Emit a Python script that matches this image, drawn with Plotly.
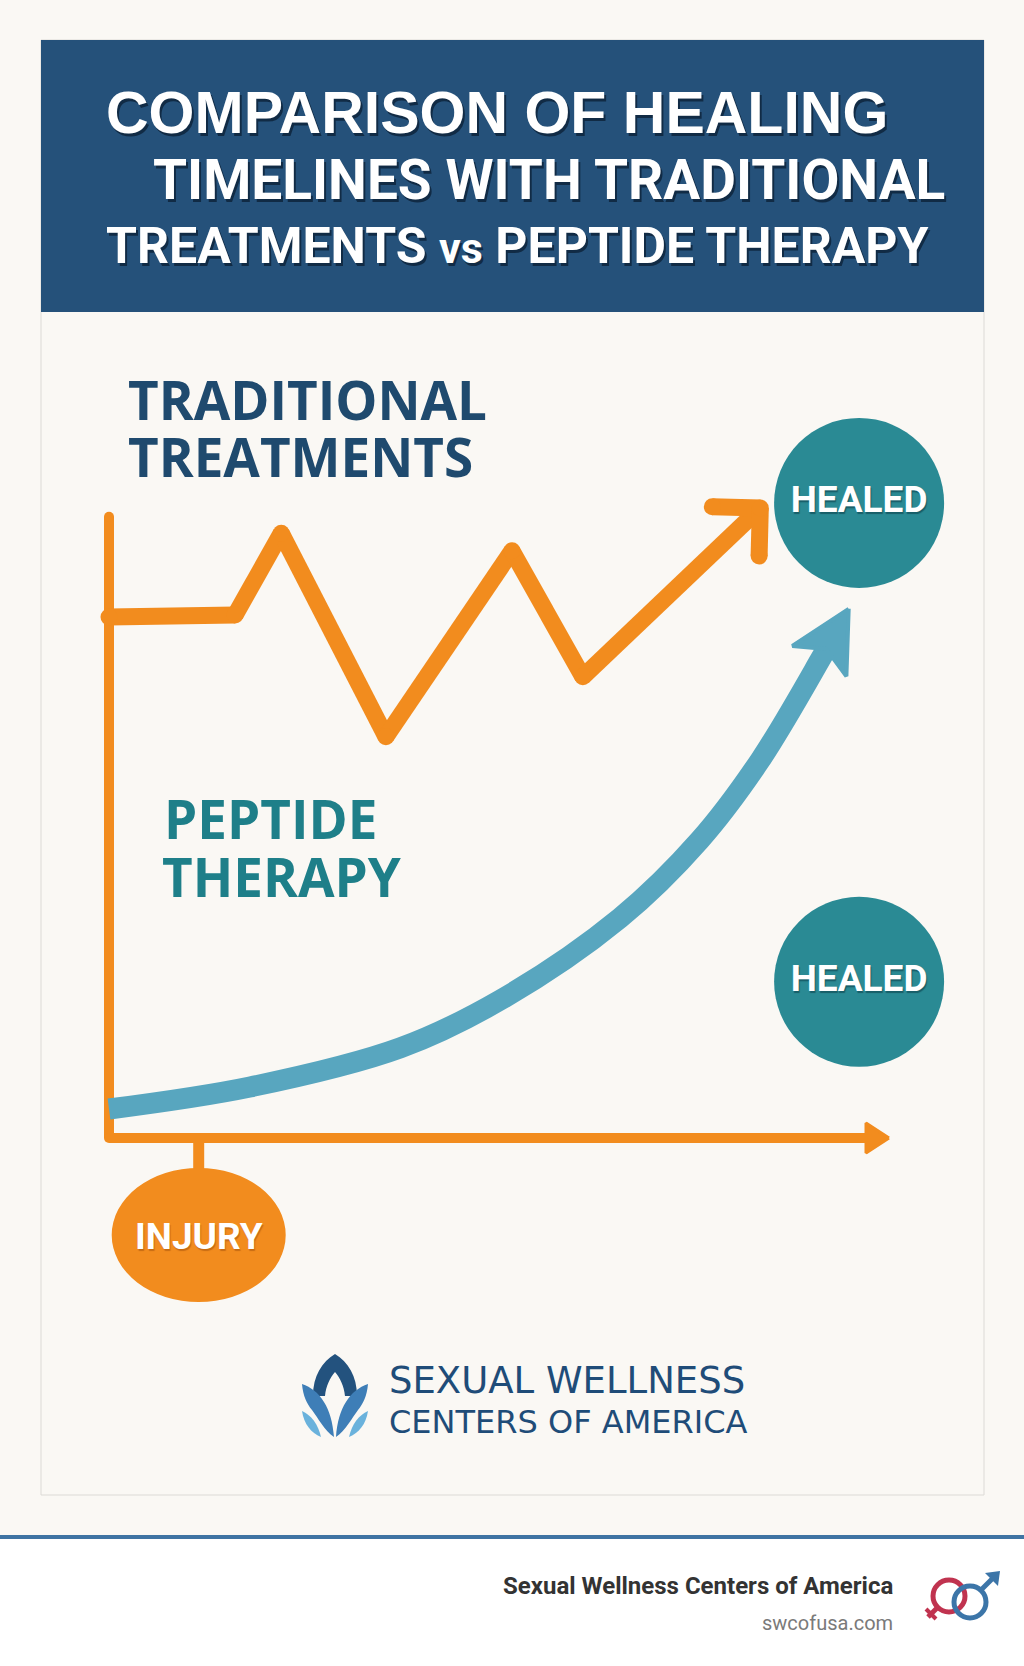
import math
import plotly.graph_objects as go

# ---------------- data ----------------
traditional_weeks = [0.0, 1.94, 2.65, 4.26, 6.20, 7.29, 10.02]
traditional_progress = [82.7, 83.0, 96.0, 63.7, 93.2, 73.2, 100.0]

peptide_weeks = [0.0, 2.17, 4.48, 6.02, 7.86, 9.09, 10.02, 10.94, 11.38]
peptide_progress = [4.6, 8.1, 14.3, 21.9, 34.9, 47.3, 60.0, 75.9, 84.0]

axis_end_week = 12.0
axis_top_progress = 98.6
injury_week = 1.38
healed_weeks = [11.54, 11.54]
healed_progress = [100.8, 24.8]
healed_labels = ["HEALED", "HEALED"]

# ---------------- style / geometry ----------------
W, H = 1024, 1666
X0, XS = 109.0, 65.0      # pixel of week 0, pixels per week
Y0, YS = 1138.0, 6.3      # pixel of progress 0 (from top), pixels per unit

ORANGE = "#F28C1E"
BLUE = "#58A6BF"
TEAL = "#2A8A94"
NAVY = "#1F4A6E"
TEAL_TXT = "#1E7F89"
HEADER = "#25517A"
BG = "#FAF8F4"


def to_px(x, y):
    return X0 + x * XS, Y0 - y * YS


def to_data(px, py):
    return (px - X0) / XS, (Y0 - py) / YS


def pp(px, py):
    return px / W, 1 - py / H


fig = go.Figure()

# ---- axes (orange) ----
fig.add_trace(go.Scatter(x=[0, 0], y=[0, axis_top_progress], mode="lines+markers",
                         line=dict(color=ORANGE, width=10),
                         marker=dict(size=10, color=ORANGE), hoverinfo="skip"))
tip_px = to_px(axis_end_week, 0)
back_px = (tip_px[0] - 23, tip_px[1])
bx, _ = to_data(*back_px)
fig.add_trace(go.Scatter(x=[0, bx + 2 / XS], y=[0, 0], mode="lines",
                         line=dict(color=ORANGE, width=10), hoverinfo="skip"))
hx = [axis_end_week, bx, bx, axis_end_week]
hy = [0, 15 / YS, -15 / YS, 0]
fig.add_trace(go.Scatter(x=hx, y=hy, mode="lines", fill="toself", fillcolor=ORANGE,
                         line=dict(color=ORANGE, width=3), hoverinfo="skip"))

# ---- peptide therapy curve ----
tpx = to_px(peptide_weeks[-1], peptide_progress[-1])
ppx = to_px(peptide_weeks[-2], peptide_progress[-2])
ux, uy = tpx[0] - ppx[0], tpx[1] - ppx[1]
ul = math.hypot(ux, uy)
ux, uy = ux / ul, uy / ul
nx, ny = -uy, ux
notch = to_data(tpx[0] - 46 * ux, tpx[1] - 46 * uy)
cx = peptide_weeks[:-1] + [notch[0]]
cy = peptide_progress[:-1] + [notch[1]]
fig.add_trace(go.Scatter(x=cx, y=cy, mode="lines", line=dict(color=BLUE, width=21, shape="spline", smoothing=1.0),
                         hoverinfo="skip"))
base = (tpx[0] - 60 * ux, tpx[1] - 60 * uy)
lw = to_data(base[0] + 31 * nx, base[1] + 31 * ny)
rw = to_data(base[0] - 31 * nx, base[1] - 31 * ny)
fig.add_trace(go.Scatter(x=[peptide_weeks[-1], lw[0], notch[0], rw[0], peptide_weeks[-1]],
                         y=[peptide_progress[-1], lw[1], notch[1], rw[1], peptide_progress[-1]],
                         mode="lines", fill="toself", fillcolor=BLUE,
                         line=dict(color=BLUE, width=4), hoverinfo="skip"))

# ---- traditional treatments zigzag ----
sx, sy = [], []
for i in range(len(traditional_weeks) - 1):
    sx += [traditional_weeks[i], traditional_weeks[i + 1], None]
    sy += [traditional_progress[i], traditional_progress[i + 1], None]
t_tip = to_px(traditional_weeks[-1], traditional_progress[-1])
t_prev = to_px(traditional_weeks[-2], traditional_progress[-2])
bxv, byv = t_prev[0] - t_tip[0], t_prev[1] - t_tip[1]
bl = math.hypot(bxv, byv)
bxv, byv = bxv / bl, byv / bl
arm_pts = []
for ang in (math.radians(45), math.radians(-45)):
    rx = bxv * math.cos(ang) - byv * math.sin(ang)
    ry = bxv * math.sin(ang) + byv * math.cos(ang)
    end = to_data(t_tip[0] + 48 * rx, t_tip[1] + 48 * ry)
    sx += [traditional_weeks[-1], end[0], None]
    sy += [traditional_progress[-1], end[1], None]
    arm_pts.append(end)
fig.add_trace(go.Scatter(x=sx, y=sy, mode="lines", connectgaps=False,
                         line=dict(color=ORANGE, width=17), hoverinfo="skip"))
jx = traditional_weeks + [p[0] for p in arm_pts]
jy = traditional_progress + [p[1] for p in arm_pts]
fig.add_trace(go.Scatter(x=jx, y=jy, mode="markers",
                         marker=dict(size=17, color=ORANGE, line=dict(width=0)), hoverinfo="skip"))

# ---- HEALED circles ----
fig.add_trace(go.Scatter(x=healed_weeks, y=healed_progress, mode="markers+text",
                         text=healed_labels, textposition="middle center",
                         marker=dict(size=170, color=TEAL, line=dict(width=0)),
                         textfont=dict(family="Roboto", size=37, color="white", weight="bold",
                                       shadow="1px 2px 1px rgba(0,40,50,0.45)"),
                         hoverinfo="skip"))

shapes = []
annotations = []


def rect_px(x0, y0, x1, y1, **kw):
    a = pp(x0, y0)
    b = pp(x1, y1)
    d = dict(type="rect", xref="paper", yref="paper", x0=a[0], y0=b[1], x1=b[0], y1=a[1])
    d.update(kw)
    shapes.append(d)


# panel + header + footer backgrounds
rect_px(41, 40, 984, 1495, line=dict(color="#DCDAD6", width=1), fillcolor="rgba(0,0,0,0)", layer="below")
rect_px(41, 40, 984, 312, line=dict(width=0), fillcolor=HEADER, layer="below")
rect_px(0, 1537, 1024, 1666, line=dict(width=0), fillcolor="#FFFFFF", layer="below")
rect_px(0, 1535, 1024, 1539, line=dict(width=0), fillcolor="#3F74A3", layer="below")

# injury stem + ellipse
stem_bottom = to_data(0, 1170)[1]
shapes.append(dict(type="line", xref="x", yref="y", x0=injury_week, x1=injury_week, y0=0, y1=stem_bottom,
                   line=dict(color=ORANGE, width=11), layer="below"))
shapes.append(dict(type="circle", xref="x", yref="y",
                   x0=injury_week - 87 / XS, x1=injury_week + 87 / XS,
                   y0=to_data(0, 1302)[1], y1=to_data(0, 1168)[1],
                   fillcolor=ORANGE, line=dict(width=0)))
annotations.append(dict(x=injury_week, y=to_data(0, 1236)[1], xref="x", yref="y", text="INJURY",
                        showarrow=False, xanchor="center", yanchor="middle",
                        font=dict(family="Roboto", size=37, color="white", weight="bold",
                                  shadow="1px 2px 1px rgba(120,50,0,0.35)")))


def ann_px(text, x, y, size, color, family, xanchor="left", weight="normal", shadow="none", height=None):
    p = pp(x, y)
    d = dict(x=p[0], y=p[1], xref="paper", yref="paper", text=text, showarrow=False,
             xanchor=xanchor, yanchor="middle",
             font=dict(family=family, size=size, color=color, weight=weight, shadow=shadow))
    if height:
        d["height"] = height
    annotations.append(d)


# title
tshadow = "2px 3px 0px #112b45"
ann_px("COMPARISON OF HEALING", 104, 113, 59, "white", "Liberation Sans", weight="bold", shadow=tshadow)
ann_px("TIMELINES WITH TRADITIONAL", 151, 180, 55, "white", "Roboto", weight="bold", shadow=tshadow)
ann_px("TREATMENTS <span style=\"font-size:43px\">vs</span> PEPTIDE THERAPY",
       104, 246, 50, "white", "Roboto", weight="bold", shadow=tshadow)

# series labels
ann_px("TRADITIONAL", 126, 399, 53, NAVY, "Open Sans", weight="bold", height=54)
ann_px("TREATMENTS", 126, 456, 53, NAVY, "Open Sans", weight="bold", height=54)
ann_px("PEPTIDE", 162, 818, 53, TEAL_TXT, "Open Sans", weight="bold", height=54)
ann_px("THERAPY", 160, 876, 53, TEAL_TXT, "Open Sans", weight="bold", height=54)

# center logo text
ann_px("SEXUAL WELLNESS", 387, 1380, 37, "#1F4C78", "DejaVu Sans")
ann_px("CENTERS OF AMERICA", 387, 1422, 32, "#1F4C78", "DejaVu Sans")

# footer text
ann_px("Sexual Wellness Centers of America", 895, 1586, 24, "#333333", "Roboto", xanchor="right", weight="bold")
ann_px("swcofusa.com", 895, 1623, 20, "#7A7A7A", "Roboto", xanchor="right")


def path_px(cmds):
    out = []
    for c in cmds:
        if isinstance(c, str):
            out.append(c)
        else:
            a = pp(*c)
            out.append(f"{a[0]:.5f},{a[1]:.5f}")
    return " ".join(out)


# lotus logo
shapes.append(dict(type="path", xref="paper", yref="paper", line=dict(width=0), fillcolor="#23527E",
                   path=path_px(["M", (313, 1396), "C", (313, 1376), (322, 1362), (335, 1354),
                                 "C", (348, 1362), (357, 1376), (357, 1396),
                                 "L", (345, 1396), "C", (344, 1386), (340, 1378), (335, 1372),
                                 "C", (330, 1378), (326, 1386), (325, 1396), "Z"])))
shapes.append(dict(type="path", xref="paper", yref="paper", line=dict(width=0), fillcolor="#3E7EB7",
                   path=path_px(["M", (302, 1384), "C", (320, 1390), (332, 1408), (334, 1437),
                                 "C", (324, 1430), (318, 1418), (312, 1410),
                                 "C", (307, 1404), (303, 1396), (302, 1384), "Z"])))
shapes.append(dict(type="path", xref="paper", yref="paper", line=dict(width=0), fillcolor="#3E7EB7",
                   path=path_px(["M", (368, 1384), "C", (350, 1390), (338, 1408), (336, 1437),
                                 "C", (346, 1430), (352, 1418), (358, 1410),
                                 "C", (363, 1404), (367, 1396), (368, 1384), "Z"])))
shapes.append(dict(type="path", xref="paper", yref="paper", line=dict(width=0), fillcolor="#6AB2DC",
                   path=path_px(["M", (302, 1411), "C", (311, 1415), (318, 1424), (321, 1437),
                                 "C", (311, 1433), (304, 1424), (302, 1411), "Z"])))
shapes.append(dict(type="path", xref="paper", yref="paper", line=dict(width=0), fillcolor="#6AB2DC",
                   path=path_px(["M", (368, 1411), "C", (359, 1415), (352, 1424), (349, 1437),
                                 "C", (359, 1433), (366, 1424), (368, 1411), "Z"])))


# gender symbol logo (footer)
def circ_px(cx, cy, r, color, w):
    a = pp(cx - r, cy + r)
    b = pp(cx + r, cy - r)
    shapes.append(dict(type="circle", xref="paper", yref="paper", x0=a[0], y0=a[1], x1=b[0], y1=b[1],
                       line=dict(color=color, width=w), fillcolor="rgba(0,0,0,0)"))


def line_px(x0, y0, x1, y1, color, w):
    a = pp(x0, y0)
    b = pp(x1, y1)
    shapes.append(dict(type="line", xref="paper", yref="paper", x0=a[0], y0=a[1], x1=b[0], y1=b[1],
                       line=dict(color=color, width=w)))


RED = "#C0334F"
MBLUE = "#3C75A8"
circ_px(949, 1596, 16, RED, 5)
line_px(937, 1608, 928, 1617, RED, 5)
line_px(926, 1609, 936, 1619, RED, 4)
circ_px(970, 1602, 16, MBLUE, 5)
line_px(981, 1590, 994, 1577, MBLUE, 5)
shapes.append(dict(type="path", xref="paper", yref="paper", line=dict(width=0), fillcolor=MBLUE,
                   path=path_px(["M", (1000, 1571), "L", (998, 1586), "L", (985, 1573), "Z"])))

fig.update_layout(
    width=W, height=H, margin=dict(l=0, r=0, t=0, b=0),
    paper_bgcolor=BG, plot_bgcolor="rgba(0,0,0,0)", showlegend=False,
    xaxis=dict(visible=False, range=[(0 - X0) / XS, (W - X0) / XS], domain=[0, 1], fixedrange=True),
    yaxis=dict(visible=False, range=[(Y0 - H) / YS, Y0 / YS], domain=[0, 1], fixedrange=True),
    shapes=shapes, annotations=annotations,
)

fig.write_html(
    "out.html",
    config={"displayModeBar": False},
    post_script="document.body.style.margin='0';document.body.style.overflow='hidden';"
                "document.body.style.background='" + BG + "';",
)
